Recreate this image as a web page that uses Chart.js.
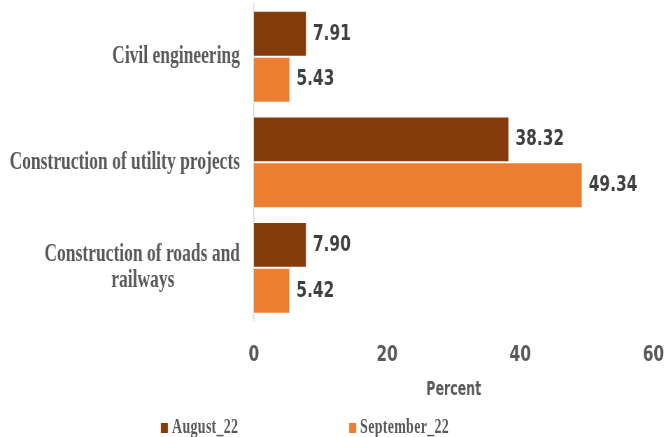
<!DOCTYPE html>
<html>
<head>
<meta charset="utf-8">
<script src="https://cdn.jsdelivr.net/npm/chart.js@4/dist/chart.umd.min.js"></script>
<style>
  body { margin: 0; overflow: hidden; background: #fff; }
  #wrap { position: relative; width: 952px; height: 437px; transform: scaleX(0.6996); transform-origin: 0 0; }
  #legend { position: absolute; left: 0; top: 415px; display: flex; padding-left: 230px; gap: 158px;
            font: bold 20px "Liberation Serif", serif; letter-spacing: 0.4px; color: #595959; white-space: nowrap; }
  #legend .box { display: inline-block; width: 10px; height: 10px; margin-right: 6px; }
</style>
</head>
<body>
<div id="wrap">
  <canvas id="canvas1" width="952" height="437"></canvas>
  <div id="legend"></div>
</div>
<script>
var categories = ['Civil engineering', 'Construction of utility projects', ['Construction of roads and', 'railways']];
var seriesNames = ['August_22', 'September_22'];
var august22 = [7.91, 38.32, 7.90];
var september22 = [5.43, 49.34, 5.42];
var xTicks = [0, 20, 40, 60];
var colors = ['#843C0C', '#ED7D31'];

var catFont = 'bold 25px "Liberation Serif", serif';

// value labels at the end of each bar
var barLabels = {
  id: 'barLabels',
  afterDatasetsDraw: function(chart) {
    var ctx = chart.ctx;
    ctx.save();
    ctx.font = 'bold 22px "DejaVu Sans", sans-serif';
    ctx.fillStyle = '#404040';
    ctx.textAlign = 'left';
    ctx.textBaseline = 'middle';
    chart.data.datasets.forEach(function(ds, i) {
      chart.getDatasetMeta(i).data.forEach(function(bar, j) {
        ctx.fillText(ds.data[j].toFixed(2), bar.x + 9, bar.y);
      });
    });
    ctx.restore();
  }
};

// right-aligned block, shorter lines centred under the longest one
function centreLines(label) {
  if (!Array.isArray(label)) return label;
  var ctx = document.getElementById('canvas1').getContext('2d');
  ctx.save();
  ctx.font = catFont;
  var widths = label.map(function(l) { return ctx.measureText(l).width; });
  var maxW = Math.max.apply(null, widths);
  var sp = ctx.measureText('\u00a0').width;
  ctx.restore();
  return label.map(function(l, k) {
    var n = Math.round((maxW - widths[k]) / 2 / sp);
    return l + new Array(n + 1).join('\u00a0');
  });
}

try {
  new Chart(document.getElementById('canvas1'), {
    type: 'bar',
    data: {
      labels: categories.map(centreLines),
      datasets: [{
        label: seriesNames[0],
        data: august22,
        backgroundColor: colors[0],
        borderColor: '#ffffff',
        borderWidth: 1
      }, {
        label: seriesNames[1],
        data: september22,
        backgroundColor: colors[1],
        borderColor: '#ffffff',
        borderWidth: 1
      }]
    },
    options: {
      indexAxis: 'y',
      responsive: false,
      animation: false,
      layout: { padding: { top: 4, right: 18, bottom: 34, left: 0 } },
      categoryPercentage: 0.87,
      barPercentage: 1,
      plugins: {
        legend: { display: false },
        tooltip: { enabled: false }
      },
      scales: {
        x: {
          min: xTicks[0],
          max: xTicks[xTicks.length - 1],
          afterBuildTicks: function(scale) {
            scale.ticks = xTicks.map(function(v) { return { value: v }; });
          },
          afterFit: function(scale) {
            scale.paddingLeft = 0;
            scale.paddingRight = 0;
          },
          grid: { display: false, drawTicks: false },
          border: { display: false },
          ticks: {
            padding: 21,
            color: '#595959',
            font: { family: 'DejaVu Sans', size: 22, weight: 'bold' }
          },
          title: {
            display: true,
            text: 'Percent',
            color: '#595959',
            padding: { top: -11, bottom: 1 },
            font: { family: 'DejaVu Sans Condensed', size: 20, weight: 'bold' }
          }
        },
        y: {
          afterFit: function(scale) {
            scale.width = 363;
            scale.paddingTop = 0;
            scale.paddingBottom = 0;
          },
          grid: { display: false, drawTicks: false },
          border: { display: true, color: '#d9d9d9', width: 1.5 },
          ticks: {
            padding: 20,
            color: '#595959',
            font: { family: 'Liberation Serif', size: 25, weight: 'bold', lineHeight: 1.05 }
          }
        }
      }
    },
    plugins: [barLabels]
  });
} catch (err) {
  console.log(err);
}

// legend under the axis title
var legend = document.getElementById('legend');
seriesNames.forEach(function(name, i) {
  legend.innerHTML += '<span><span class="box" style="background:' + colors[i] + '"></span>' + name + '</span>';
});
</script>
</body>
</html>
